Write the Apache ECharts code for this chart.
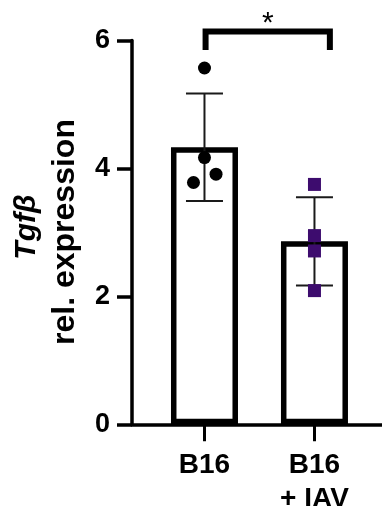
<!DOCTYPE html>
<html>
<head>
<meta charset="utf-8">
<script src="https://cdn.jsdelivr.net/npm/echarts@6/dist/echarts.min.js"></script>
<style>
  html, body { margin: 0; padding: 0; background: #fff; }
  #chart { width: 382px; height: 506px; }
</style>
</head>
<body>
<div id="chart"></div>
<script>
// groups
var categories = ["B16", "B16\n+ IAV"];
var catPos = [1, 2];
// mean and SD per group
var means = [4.33, 2.86];
var sds = [0.84, 0.69];
// individual replicates [x, value]
var b16Points = [[1.0, 5.57], [1.0, 4.17], [0.9, 3.78], [1.105, 3.91]];
var iavPoints = [[2, 3.75], [2, 2.95], [2, 2.71], [2, 2.09]];
// significance bracket: [x left, x right, y top, y leg end]
var bracket = [[1.01, 2.14, 6.14, 5.85]];
var sigLabel = "*";

var font = "Liberation Sans, Arial, sans-serif";
var purple = "#3d0c6e";

var chart = echarts.init(document.getElementById("chart"));

var barData = catPos.map(function (x, i) { return [x, means[i]]; });
var errData = catPos.map(function (x, i) { return [x, means[i] - sds[i], means[i] + sds[i]]; });

var option = {
  backgroundColor: "#fff",
  animation: false,
  grid: { left: 132, right: 0, top: 40.5, bottom: 81.7, outerBoundsMode: "none", containLabel: false },
  xAxis: {
    type: "value",
    min: 0.341,
    max: 2.614,
    splitLine: { show: false },
    axisLine: { show: true, lineStyle: { color: "#000", width: 3.5 } },
    axisTick: { show: true, customValues: catPos, length: 17, lineStyle: { color: "#000", width: 3 } },
    axisLabel: {
      customValues: catPos,
      formatter: function (v) { return categories[catPos.indexOf(v)]; },
      color: "#000",
      fontFamily: font,
      fontWeight: "bold",
      fontSize: 28,
      lineHeight: 34,
      margin: 24
    }
  },
  yAxis: {
    type: "value",
    min: 0,
    max: 6,
    interval: 2,
    splitLine: { show: false },
    axisLine: { show: true, lineStyle: { color: "#000", width: 3.5 } },
    axisTick: { show: true, length: 15, lineStyle: { color: "#000", width: 3.5 } },
    axisLabel: {
      color: "#000",
      fontFamily: font,
      fontWeight: "bold",
      fontSize: 27,
      margin: 22
    }
  },
  graphic: [
    {
      type: "text", x: 27, y: 227, rotation: Math.PI / 2,
      style: { text: "Tgfβ", fontFamily: font, fontWeight: "bold", fontStyle: "italic", fontSize: 30,
        fill: "#000", align: "center", verticalAlign: "middle" }
    },
    {
      type: "text", x: 65, y: 232, rotation: Math.PI / 2,
      style: { text: "rel. expression", fontFamily: font, fontWeight: "bold", fontSize: 32,
        fill: "#000", align: "center", verticalAlign: "middle" }
    }
  ],
  series: [
    {
      type: "bar",
      data: barData,
      barWidth: 67,
      itemStyle: { color: "#fff", borderColor: "#000", borderWidth: 5.5 },
      z: 2
    },
    {
      type: "custom",
      data: errData,
      z: 3,
      renderItem: function (params, api) {
        var x = api.value(0);
        var lo = api.coord([x, api.value(1)]);
        var hi = api.coord([x, api.value(2)]);
        var hw = 18.5;
        var st = { stroke: "#1a1a1a", lineWidth: 2 };
        return {
          type: "group",
          children: [
            { type: "line", shape: { x1: lo[0], y1: lo[1], x2: hi[0], y2: hi[1] }, style: st },
            { type: "line", shape: { x1: hi[0] - hw, y1: hi[1], x2: hi[0] + hw, y2: hi[1] }, style: st },
            { type: "line", shape: { x1: lo[0] - hw, y1: lo[1], x2: lo[0] + hw, y2: lo[1] }, style: st }
          ]
        };
      }
    },
    {
      type: "scatter",
      data: b16Points,
      symbol: "circle",
      symbolSize: 13,
      itemStyle: { color: "#000", opacity: 1 },
      z: 4
    },
    {
      type: "scatter",
      data: iavPoints,
      symbol: "rect",
      symbolSize: 13,
      itemStyle: { color: purple, opacity: 1 },
      z: 4
    },
    {
      type: "custom",
      data: bracket,
      clip: false,
      z: 5,
      renderItem: function (params, api) {
        var yTop = api.value(2), yEnd = api.value(3);
        var a = api.coord([api.value(0), yEnd]);
        var b = api.coord([api.value(0), yTop]);
        var c = api.coord([api.value(1), yTop]);
        var d = api.coord([api.value(1), yEnd]);
        return {
          type: "group",
          children: [
            { type: "polyline", shape: { points: [a, b, c, d] },
              style: { stroke: "#000", lineWidth: 6, fill: null, lineJoin: "miter", lineCap: "butt" } },
            { type: "text", x: (b[0] + c[0]) / 2, y: b[1] - 8,
              style: { text: sigLabel, fontFamily: font, fontSize: 30, fill: "#000",
                align: "center", verticalAlign: "middle" } }
          ]
        };
      }
    }
  ]
};

chart.setOption(option);
</script>
</body>
</html>
